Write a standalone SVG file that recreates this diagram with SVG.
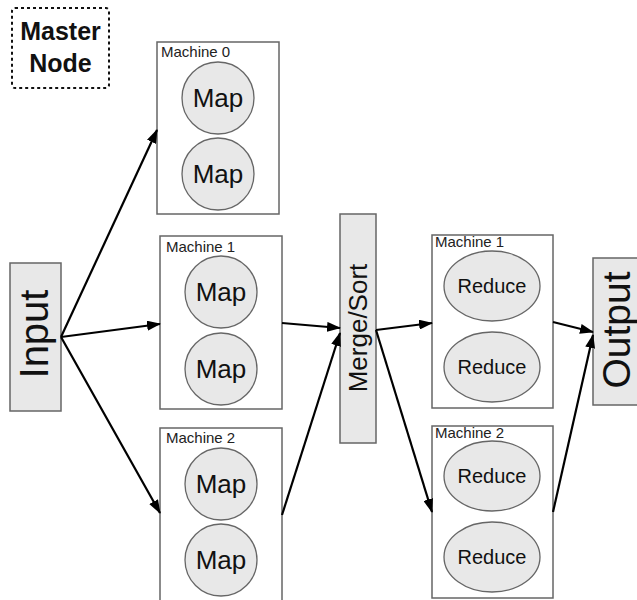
<svg xmlns="http://www.w3.org/2000/svg" width="637" height="600" viewBox="0 0 637 600">
<style>
  .box{fill:#ffffff;stroke:#666666;stroke-width:1.5}
  .bar{fill:#e8e8e8;stroke:#666666;stroke-width:1.5}
  .ell{fill:#e8e8e8;stroke:#666666;stroke-width:1.3}
  .lbl{font-family:"Liberation Sans",Arial,sans-serif;font-size:15px;fill:#222}
  .map{font-family:"Liberation Sans",Arial,sans-serif;font-size:26px;fill:#111;text-anchor:middle}
  .red{font-family:"Liberation Sans",Arial,sans-serif;font-size:20px;fill:#111;text-anchor:middle}
  .big{font-family:"Liberation Sans",Arial,sans-serif;fill:#111;text-anchor:middle}
  .con{stroke:#000;stroke-width:2.2;fill:none;marker-end:url(#ah)}
</style>
<defs>
  <marker id="ah" markerUnits="userSpaceOnUse" markerWidth="14" markerHeight="10" refX="13" refY="5" orient="auto">
    <path d="M0,0 L14,5 L0,10 Z" fill="#000"/>
  </marker>
</defs>
<rect width="637" height="600" fill="#ffffff"/>

<g id="master">
  <rect x="12" y="8" width="97" height="80" rx="3" fill="#fff" stroke="#111" stroke-width="2" stroke-dasharray="3,3"/>
  <text x="60.5" y="40" class="big" style="font-size:25px;font-weight:bold">Master</text>
  <text x="60.5" y="72" class="big" style="font-size:25px;font-weight:bold">Node</text>
</g>

<g id="input">
  <rect x="10" y="263" width="51" height="148" class="bar"/>
  <text transform="translate(48,334) rotate(-90)" class="big" style="font-size:40px">Input</text>
</g>

<g id="map-machine0">
  <rect x="157" y="42" width="122" height="172" class="box"/>
  <text x="161" y="57" class="lbl">Machine 0</text>
  <circle cx="218" cy="98" r="36" class="ell"/>
  <text x="218" y="107" class="map">Map</text>
  <circle cx="218" cy="174" r="36" class="ell"/>
  <text x="218" y="183" class="map">Map</text>
</g>

<g id="map-machine1">
  <rect x="160" y="236" width="122" height="173" class="box"/>
  <text x="166" y="252" class="lbl">Machine 1</text>
  <circle cx="221" cy="292" r="36" class="ell"/>
  <text x="221" y="301" class="map">Map</text>
  <circle cx="221" cy="369" r="36" class="ell"/>
  <text x="221" y="378" class="map">Map</text>
</g>

<g id="map-machine2">
  <rect x="160" y="428" width="122" height="175" class="box"/>
  <text x="166" y="443" class="lbl">Machine 2</text>
  <circle cx="221" cy="484" r="36" class="ell"/>
  <text x="221" y="493" class="map">Map</text>
  <circle cx="221" cy="560" r="36" class="ell"/>
  <text x="221" y="569" class="map">Map</text>
</g>

<g id="merge-sort">
  <rect x="340" y="214" width="36" height="229" class="bar"/>
  <text transform="translate(367,328) rotate(-90)" class="big" style="font-size:26px">Merge/Sort</text>
</g>

<g id="reduce-machine1">
  <rect x="432" y="235" width="121" height="173" class="box"/>
  <text x="435" y="247" class="lbl">Machine 1</text>
  <ellipse cx="492" cy="286" rx="48" ry="35" class="ell"/>
  <text x="492" y="293" class="red">Reduce</text>
  <ellipse cx="492" cy="367" rx="48" ry="35" class="ell"/>
  <text x="492" y="374" class="red">Reduce</text>
</g>

<g id="reduce-machine2">
  <rect x="432" y="426" width="121" height="172" class="box"/>
  <text x="435" y="438" class="lbl">Machine 2</text>
  <ellipse cx="492" cy="476" rx="48" ry="35" class="ell"/>
  <text x="492" y="483" class="red">Reduce</text>
  <ellipse cx="492" cy="557" rx="48" ry="35" class="ell"/>
  <text x="492" y="564" class="red">Reduce</text>
</g>

<g id="output">
  <rect x="593" y="258" width="50" height="147" class="bar"/>
  <text transform="translate(630,330) rotate(-90)" class="big" style="font-size:39px">Output</text>
</g>

<g id="connectors">
  <line x1="61" y1="337" x2="157" y2="130" class="con"/>
  <line x1="61" y1="337" x2="160" y2="324" class="con"/>
  <line x1="61" y1="337" x2="160" y2="513" class="con"/>
  <line x1="282" y1="323" x2="340" y2="328" class="con"/>
  <line x1="282" y1="515" x2="340" y2="333" class="con"/>
  <line x1="376" y1="330" x2="432" y2="323" class="con"/>
  <line x1="376" y1="330" x2="432" y2="512" class="con"/>
  <line x1="553" y1="322" x2="593" y2="332" class="con"/>
  <line x1="553" y1="512" x2="593" y2="335" class="con"/>
</g>
</svg>
